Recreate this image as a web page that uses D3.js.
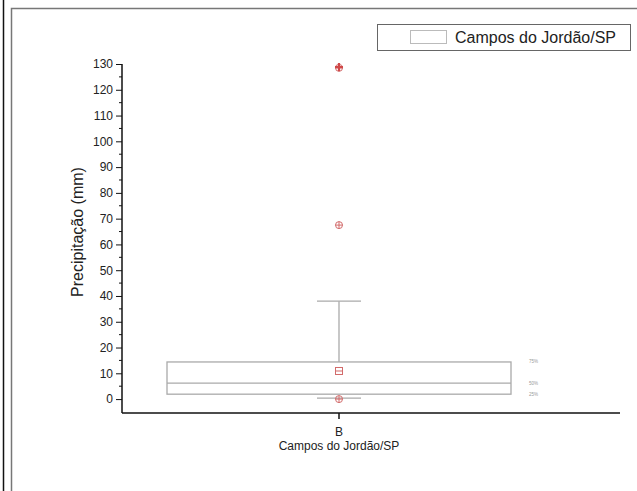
<!DOCTYPE html>
<html><head><meta charset="utf-8">
<script src="https://cdn.jsdelivr.net/npm/d3@7"></script>
<style>body{margin:0;background:#fff}svg{display:block;font-family:"Liberation Sans",Arial,sans-serif}</style>
</head><body><svg id="c" width="637" height="491"></svg>
<script>
const categories = ["B"];
const seriesName = "Campos do Jordão/SP";
const q1 = [1.9], median = [6.2], q3 = [14.4];
const whiskerLow = [0.4], whiskerHigh = [38];
const meanVal = [10.9];
const outliers = [[67.5, 128.5]];
const minVal = [0], maxVal = [128.8];
const yTicks = [0,10,20,30,40,50,60,70,80,90,100,110,120,130];
const pctLabels = ["75%","50%","25%"];

const svg = d3.select("#c");
// frame
svg.append("line").attr("x1",3.5).attr("x2",3.5).attr("y1",0).attr("y2",491).attr("stroke","#111").attr("stroke-width",1.5);
svg.append("path").attr("d","M11.5,491V8.5H637").attr("fill","none").attr("stroke","#777").attr("stroke-width",1.5);

const y = d3.scaleLinear().domain([-5.4,130]).range([413,64]);
const x = d3.scaleBand().domain(categories).range([167,511]);
const axisX = 122;

// y axis
const yAxis = d3.axisLeft(y).tickValues(yTicks).tickSize(6).tickPadding(3);
const gy = svg.append("g").attr("transform",`translate(${axisX},0)`).call(yAxis);
gy.select(".domain").attr("d",`M0,${y(130)}V413`).attr("stroke","#111").attr("stroke-width",1.5);
gy.selectAll(".tick line").attr("stroke","#111");
gy.selectAll(".tick text").attr("font-size",12).attr("fill","#222");
gy.selectAll(".minor").data(d3.range(5,130,10)).enter().append("line")
  .attr("x1",-3).attr("x2",0).attr("y1",d=>y(d)).attr("y2",d=>y(d)).attr("stroke","#111");

// x axis
const gx = svg.append("g").attr("transform","translate(0,413)");
gx.append("line").attr("x1",axisX).attr("x2",620).attr("stroke","#111").attr("stroke-width",1.5);
categories.forEach((c,i)=>{
  const cx = x(c)+x.bandwidth()/2;
  gx.append("line").attr("x1",cx).attr("x2",cx).attr("y1",0).attr("y2",6).attr("stroke","#111").attr("stroke-width",1.5);
  gx.append("text").attr("x",cx).attr("y",23).attr("text-anchor","middle").attr("font-size",12).attr("fill","#222").text(c);
});
svg.append("text").attr("x",339).attr("y",450).attr("text-anchor","middle").attr("font-size",12).attr("fill","#222").text(seriesName);
svg.append("text").attr("transform","translate(83,232) rotate(-90)").attr("text-anchor","middle").attr("font-size",16).attr("fill","#222").text("Precipitação (mm)");

// box
const boxCol = "#aaa";
categories.forEach((c,i)=>{
  const x0 = x(c), x1 = x(c)+x.bandwidth(), cx = (x0+x1)/2;
  svg.append("line").attr("x1",cx).attr("x2",cx).attr("y1",y(whiskerHigh[i])).attr("y2",y(q3[i])).attr("stroke",boxCol).attr("stroke-width",1.3);
  svg.append("line").attr("x1",cx-22).attr("x2",cx+22).attr("y1",y(whiskerHigh[i])).attr("y2",y(whiskerHigh[i])).attr("stroke",boxCol).attr("stroke-width",1.3);
  svg.append("line").attr("x1",cx-22).attr("x2",cx+22).attr("y1",y(whiskerLow[i])).attr("y2",y(whiskerLow[i])).attr("stroke",boxCol).attr("stroke-width",1.3);
  svg.append("rect").attr("x",x0).attr("y",y(q3[i])).attr("width",x1-x0).attr("height",y(q1[i])-y(q3[i])).attr("fill","none").attr("stroke",boxCol).attr("stroke-width",1.3);
  svg.append("line").attr("x1",x0).attr("x2",x1).attr("y1",y(median[i])).attr("y2",y(median[i])).attr("stroke",boxCol).attr("stroke-width",1.3);
  // mean square
  const my = y(meanVal[i]);
  svg.append("rect").attr("x",cx-3.5).attr("y",my-3.5).attr("width",7).attr("height",7).attr("fill","none").attr("stroke","#d26a6a").attr("stroke-width",1);
  svg.append("line").attr("x1",cx-3.5).attr("x2",cx+3.5).attr("y1",my).attr("y2",my).attr("stroke","#d26a6a");
  // outliers: circle with plus
  outliers[i].concat([minVal[i]]).forEach(v=>{
    const oy = y(v);
    svg.append("circle").attr("cx",cx).attr("cy",oy).attr("r",3.5).attr("fill","none").attr("stroke","#d26a6a").attr("stroke-width",1);
    svg.append("path").attr("d",`M${cx-3.5},${oy}H${cx+3.5}M${cx},${oy-3.5}V${oy+3.5}`).attr("stroke","#d26a6a").attr("stroke-width",1);
  });
  // max: filled cross
  const my2 = y(maxVal[i]);
  svg.append("path").attr("d",`M${cx-4},${my2}H${cx+4}M${cx},${my2-4}V${my2+4}`).attr("stroke","#d04848").attr("stroke-width",2.2);
  // pct labels
  [q3[i],median[i],q1[i]].forEach((v,k)=>{
    svg.append("text").attr("x",x1+18).attr("y",y(v)+1.5).attr("font-size",4.5).attr("fill","#999").text(pctLabels[k]);
  });
});

// legend
svg.append("rect").attr("x",377.5).attr("y",24.5).attr("width",253).attr("height",26).attr("fill","#fff").attr("stroke","#666").attr("stroke-width",1);
svg.append("rect").attr("x",410.5).attr("y",30.5).attr("width",36).attr("height",13).attr("fill","#fff").attr("stroke","#bbb").attr("stroke-width",1);
svg.append("text").attr("x",455).attr("y",43).attr("font-size",16).attr("fill","#222").text(seriesName);
</script></body></html>
